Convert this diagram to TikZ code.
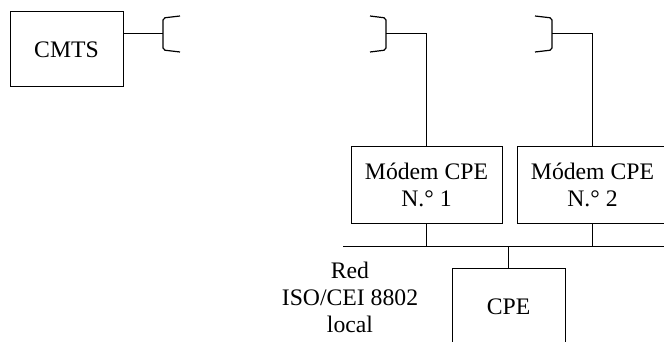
\documentclass[tikz,border=0pt]{standalone}
\usepackage{fontspec}
\setmainfont{Liberation Serif}
\begin{document}
\begin{tikzpicture}[x=1pt,y=-1pt,line width=1pt,
  unit/.style={draw, inner sep=0pt, align=center,
    font=\fontsize{23.7}{27}\selectfont},
  wire/.style={line width=1pt},
  plug/.style={line width=1.2pt, rounded corners=2pt},
  label/.style={inner sep=0pt, align=center,
    font=\fontsize{23.7}{27}\selectfont}]
\clip (0,0) rectangle (664,342);

% equipment
\node[unit, minimum width=113pt, minimum height=75pt] (cmts) at (66.5,49.5) {CMTS};
\node[unit, minimum width=151pt, minimum height=76pt] (m1) at (426.5,185) {Módem CPE\\N.° 1};
\node[unit, minimum width=151pt, minimum height=76pt] (m2) at (592.5,185) {Módem CPE\\N.° 2};
\node[unit, minimum width=113pt, minimum height=78pt] (cpe) at (508.5,307) {CPE};
\node[label, anchor=north] (lan) at (350,262) {Red\\ISO/CEI 8802\\local};

% cable taps
\coordinate (tap0) at (163,34);
\coordinate (tap1) at (386,34);
\coordinate (tap2) at (552,34);
\draw[plug] (180,16) -- (163,18) -- (163,50) -- (180,52);
\draw[plug] (370,16) -- (386,18) -- (386,50) -- (370,52);
\draw[plug] (535,16) -- (552,18) -- (552,50) -- (535,52);

% HFC connections
\draw[wire] (tap0 -| cmts.east) -- (tap0);
\draw[wire] (tap1) -- (tap1 -| m1.north) -- (m1.north);
\draw[wire] (tap2) -- (tap2 -| m2.north) -- (m2.north);

% local network bus
\coordinate (busL) at (343,246);
\coordinate (busR) at (666,246);
\draw[wire] (busL) -- (busR);
\draw[wire] (m1.south) -- (m1.south |- busL);
\draw[wire] (m2.south) -- (m2.south |- busL);
\draw[wire] (cpe.north |- busL) -- (cpe.north);
\end{tikzpicture}
\end{document}
